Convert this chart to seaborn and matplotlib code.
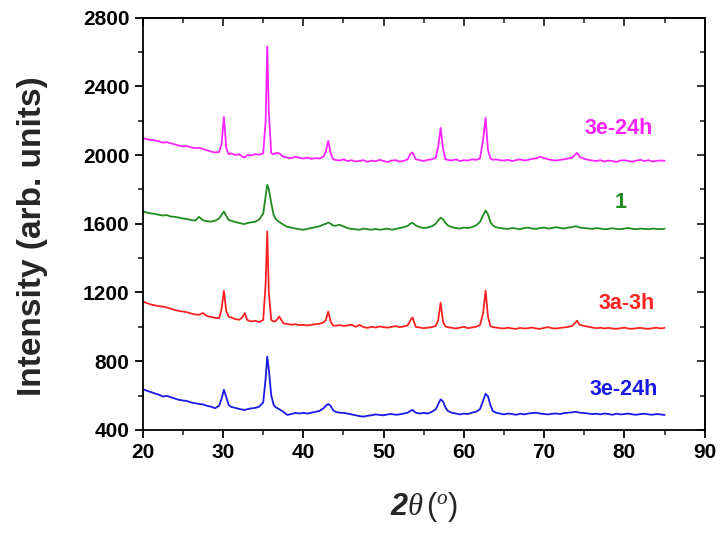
import numpy as np
import pandas as pd
import matplotlib
matplotlib.use("Agg")
import matplotlib.pyplot as plt
import seaborn as sns
from matplotlib.ticker import MultipleLocator, NullFormatter

# 2-theta grid (deg), finer around the reflections
two_theta = [
    20.0, 20.5, 21.0, 21.5, 22.0, 22.5, 23.0, 23.5, 24.0, 24.5,
    25.0, 25.5, 26.0, 26.5, 27.0, 27.5, 28.0, 28.5, 29.0, 29.5,
    29.8, 30.1, 30.4, 30.7,
    31.0, 31.5, 32.0, 32.4, 32.7, 33.0, 33.5, 34.0, 34.5, 35.0,
    35.3, 35.5, 35.7, 36.0, 36.3, 36.6,
    37.0, 37.5, 38.0, 38.5, 39.0, 39.5, 40.0, 40.5, 41.0, 41.5, 42.0, 42.5,
    42.8, 43.1, 43.4, 43.7,
    44.0, 44.5, 45.0, 45.5, 46.0, 46.5, 47.0, 47.5, 48.0, 48.5,
    49.0, 49.5, 50.0, 50.5, 51.0, 51.5, 52.0, 52.5, 53.0,
    53.3, 53.6,
    54.0, 54.5, 55.0, 55.5, 56.0, 56.5,
    56.8, 57.1, 57.4, 57.7,
    58.0, 58.5, 59.0, 59.5, 60.0, 60.5, 61.0, 61.5, 62.0,
    62.4, 62.7, 63.0, 63.3, 63.6,
    64.0, 64.5, 65.0, 65.5, 66.0, 66.5, 67.0, 67.5, 68.0, 68.5,
    69.0, 69.5, 70.0, 70.5, 71.0, 71.5, 72.0, 72.5, 73.0, 73.5,
    73.8, 74.1, 74.4,
    75.0, 75.5, 76.0, 76.5, 77.0, 77.5, 78.0, 78.5, 79.0, 79.5,
    80.0, 80.5, 81.0, 81.5, 82.0, 82.5, 83.0, 83.5, 84.0, 84.5, 85.0,
]

magenta_3e_24h = [
    2100, 2092, 2088, 2085, 2080, 2072, 2075, 2068, 2062, 2055,
    2050, 2052, 2045, 2040, 2042, 2035, 2028, 2020, 2015, 2018,
    2060, 2222, 2040, 2005,
    2010, 2000, 2005, 1990, 1985, 2000, 1998, 2005, 2002, 2010,
    2200, 2632, 2250, 2010, 2005, 2012,
    2010, 1990, 1985, 1982, 1990, 1984, 1980, 1985, 1978, 1982, 1980, 1990,
    2020, 2083, 2010, 1975,
    1972, 1968, 1975, 1965, 1970, 1962, 1966, 1970, 1960, 1968,
    1964, 1972, 1965, 1960, 1968, 1970, 1962, 1966, 1975,
    2005, 2015,
    1975, 1970, 1965, 1972, 1975, 1985,
    2050, 2158, 2040, 1975,
    1972, 1968, 1975, 1965, 1970, 1968, 1975, 1972, 1980,
    2090, 2217, 2030, 1980, 1972,
    1975, 1970, 1968, 1972, 1965, 1970, 1975, 1968, 1972, 1978,
    1980, 1990, 1982, 1975, 1970, 1968, 1972, 1975, 1980, 1985,
    2000, 2013, 1990,
    1978, 1972, 1968, 1965, 1970, 1962, 1968, 1965, 1960, 1968,
    1970, 1965, 1962, 1968, 1972, 1965, 1970, 1962, 1966, 1968, 1967,
]

green_1 = [
    1671, 1665, 1660, 1658, 1652, 1648, 1650, 1642, 1640, 1636,
    1630, 1628, 1622, 1618, 1640, 1620, 1615, 1612, 1618, 1630,
    1650, 1671, 1645, 1622,
    1618, 1610, 1605, 1600, 1598, 1604, 1608, 1612, 1625, 1660,
    1760, 1827, 1800, 1720, 1650, 1625,
    1610, 1595, 1582, 1578, 1572, 1568, 1565, 1570, 1575, 1580, 1585, 1595,
    1600, 1607, 1600, 1590,
    1588, 1594, 1585, 1575, 1570, 1568, 1565, 1572, 1568, 1565,
    1570, 1565, 1568, 1572, 1565, 1570, 1575, 1580, 1588,
    1600, 1605,
    1590, 1580, 1575, 1578, 1585, 1600,
    1620, 1635, 1625, 1605,
    1590, 1580, 1575, 1572, 1578, 1575, 1580, 1590, 1610,
    1650, 1677, 1655, 1610, 1590,
    1580, 1575, 1572, 1570, 1575, 1572, 1568, 1575, 1578, 1572,
    1570, 1575, 1578, 1572, 1575, 1580, 1575, 1572, 1578, 1580,
    1585, 1584, 1578,
    1575, 1572, 1570, 1575, 1572, 1568, 1570, 1574, 1570, 1568,
    1572, 1575, 1570, 1568, 1572, 1570, 1568, 1572, 1570, 1568, 1571,
]

red_3a_3h = [
    1147, 1138, 1130, 1125, 1120, 1118, 1112, 1105, 1098, 1092,
    1089, 1085, 1078, 1072, 1070, 1080, 1062, 1058, 1052, 1050,
    1100, 1210, 1090, 1058,
    1055, 1045, 1041, 1055, 1080, 1040, 1031, 1035, 1028, 1040,
    1250, 1555, 1200, 1040, 1030, 1035,
    1060, 1020, 1017, 1012, 1015, 1010, 1011, 1008, 1012, 1015, 1018, 1025,
    1040, 1089, 1030, 1008,
    1006, 1010, 1005, 1008, 1012, 1000, 1011, 998, 994, 1000,
    996, 1002, 998, 995, 1000, 1004, 998, 1002, 1008,
    1035, 1055,
    1000, 996, 992, 995, 998, 1005,
    1040, 1140, 1030, 1002,
    998, 994, 990, 995, 1000, 992, 996, 1000, 1010,
    1080, 1211, 1060, 1005, 998,
    996, 992, 990, 995, 990, 988, 994, 990, 992, 996,
    990, 988, 994, 998, 992, 990, 994, 996, 1000, 1005,
    1020, 1036, 1012,
    1005, 1000, 996, 992, 995, 990, 994, 990, 988, 992,
    995, 990, 988, 992, 994, 990, 988, 992, 995, 990, 994,
]

blue_3e_24h = [
    637, 628, 620, 612, 605, 594, 598, 590, 582, 575,
    571, 568, 560, 555, 551, 548, 540, 535, 526, 540,
    580, 633, 590, 545,
    534, 528, 522, 518, 516, 520, 525, 528, 535, 560,
    700, 827, 750, 600, 545, 530,
    520, 505, 487, 492, 499, 495, 499, 495, 500, 505, 510, 525,
    540, 551, 540, 515,
    505, 500, 499, 495, 490, 485, 480, 477, 482, 485,
    490, 487, 485, 490, 492, 488, 490, 495, 500,
    510, 516,
    500, 495, 499, 495, 505, 520,
    550, 578, 565, 530,
    510, 500, 495, 490, 495, 492, 500, 505, 520,
    570, 610, 595, 545, 510,
    500, 495, 490, 495, 492, 488, 494, 490, 495, 498,
    500, 495, 492, 490, 494, 495, 492, 498, 500, 502,
    505, 504, 500,
    498, 495, 492, 494, 490, 495, 492, 488, 494, 490,
    492, 495, 490, 488, 492, 494, 490, 488, 492, 490, 487,
]

sample_names = ["3e-24h (top)", "1", "3a-3h", "3e-24h (bottom)"]
sample_labels = ["3e-24h", "1", "3a-3h", "3e-24h"]
colors = ["#ff22ff", "#1e8c1e", "#ff2222", "#1a1ae6"]
# label anchor (right edge x, centre y) in data units
label_x = [83.5, 80.3, 83.8, 84.2]
label_y = [2153, 1722, 1134, 633]

series = [magenta_3e_24h, green_1, red_3a_3h, blue_3e_24h]
frames = []
for name, vals in zip(sample_names, series):
    frames.append(pd.DataFrame({"two_theta": two_theta, "intensity": vals, "sample": name}))
df = pd.concat(frames, ignore_index=True)

sns.set_style("ticks")
plt.rcParams["font.family"] = ["Liberation Sans", "DejaVu Sans"]
plt.rcParams["mathtext.fontset"] = "custom"
plt.rcParams["mathtext.it"] = "Liberation Serif:italic"
plt.rcParams["mathtext.bf"] = "Liberation Sans:italic:bold"
plt.rcParams["mathtext.rm"] = "Liberation Sans"

fig = plt.figure(figsize=(7.25, 5.34), dpi=100)
ax = fig.add_axes([0.197, 0.195, 0.775, 0.772])

sns.lineplot(data=df, x="two_theta", y="intensity", hue="sample",
             palette=dict(zip(sample_names, colors)), estimator=None,
             sort=False, linewidth=1.3, legend=False, ax=ax)

for txt, c, lx, ly in zip(sample_labels, colors, label_x, label_y):
    ax.text(lx, ly, txt, color=c, fontsize=15.5, fontweight="bold",
            ha="right", va="center")

ax.set_xlim(20, 90)
ax.set_ylim(400, 2800)
ax.xaxis.set_major_locator(MultipleLocator(10))
ax.xaxis.set_minor_locator(MultipleLocator(5))
ax.yaxis.set_major_locator(MultipleLocator(400))
ax.yaxis.set_minor_locator(MultipleLocator(200))

for s in ax.spines.values():
    s.set_visible(True)
    s.set_linewidth(1.3)
    s.set_color("black")

# bottom / left ticks point out
ax.tick_params(axis="both", which="major", direction="out", length=6, width=1.3,
               labelsize=15, colors="black")
ax.tick_params(axis="both", which="minor", direction="out", length=3.5, width=1.2)
for t in ax.xaxis.get_ticklabels() + ax.yaxis.get_ticklabels():
    t.set_fontweight("bold")

# top / right ticks point in
top = ax.secondary_xaxis("top")
top.xaxis.set_major_locator(MultipleLocator(10))
top.xaxis.set_minor_locator(MultipleLocator(5))
top.xaxis.set_major_formatter(NullFormatter())
top.tick_params(which="major", direction="in", length=6, width=1.3)
top.tick_params(which="minor", direction="in", length=3.5, width=1.2)
right = ax.secondary_yaxis("right")
right.yaxis.set_major_locator(MultipleLocator(400))
right.yaxis.set_minor_locator(MultipleLocator(200))
right.yaxis.set_major_formatter(NullFormatter())
right.tick_params(which="major", direction="in", length=6, width=1.3)
right.tick_params(which="minor", direction="in", length=3.5, width=1.2)
for sec in (top, right):
    for s in sec.spines.values():
        s.set_linewidth(1.3)

ax.set_ylabel("Intensity (arb. units)", fontsize=24, fontweight="bold")
ax.yaxis.set_label_coords(-0.168, 0.47)
ax.set_xlabel(r"$\mathbf{2}\mathit{\theta}\,\mathit{(^o)}$", fontsize=22, labelpad=20)

fig.savefig("out.png", dpi=100)
